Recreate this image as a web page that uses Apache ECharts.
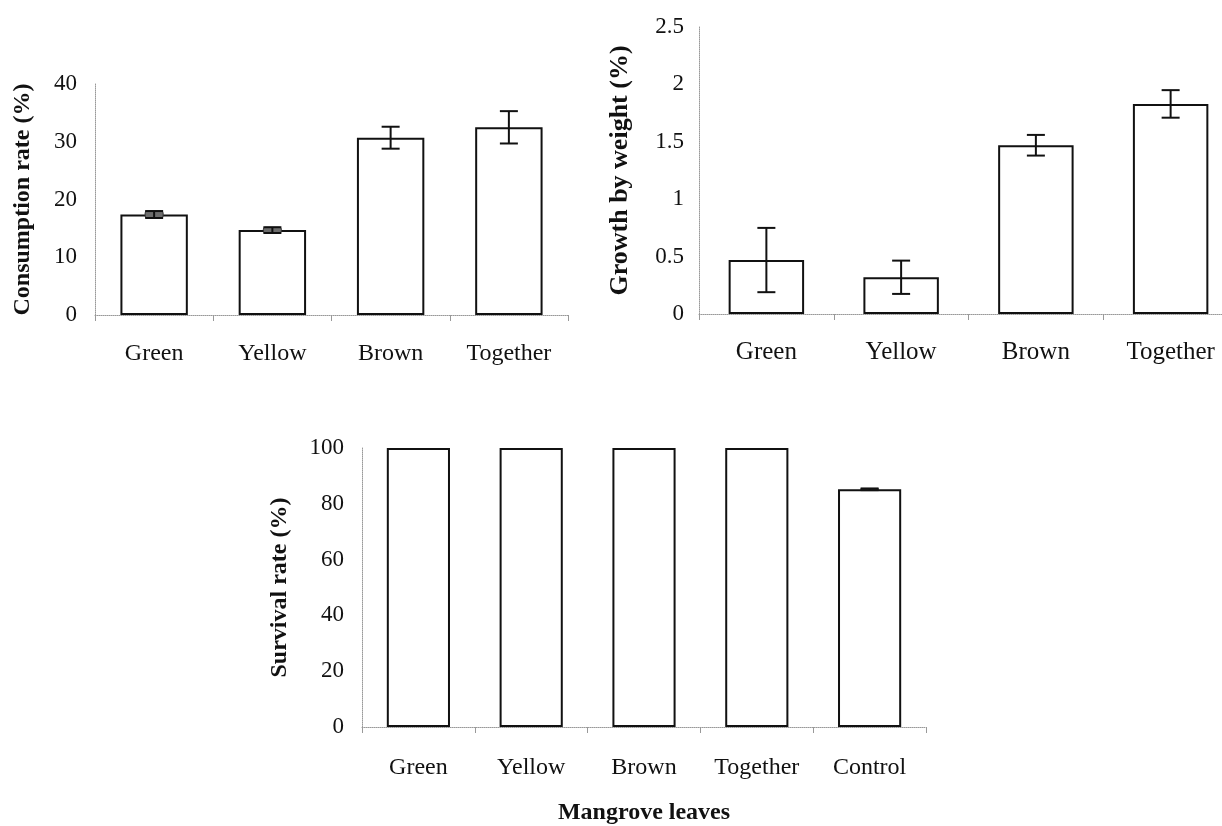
<!DOCTYPE html>
<html>
<head>
<meta charset="utf-8">
<script src="https://cdn.jsdelivr.net/npm/echarts@6/dist/echarts.min.js"></script>
<style>
  html, body { margin: 0; padding: 0; background: #fff; overflow: hidden; }
  #chart { width: 1262px; height: 826px; }
</style>
</head>
<body>
<div id="chart"></div>
<script>
// Leaf colour treatments
const leafTypes = ['Green', 'Yellow', 'Brown', 'Together'];
const survivalGroups = ['Green', 'Yellow', 'Brown', 'Together', 'Control'];

// Consumption rate (%) with standard errors
const consumption = [17.4, 14.7, 30.7, 32.5];
const consumptionErr = [0.6, 0.5, 1.9, 2.8];

// Growth by weight (%) with standard errors
const growth = [0.47, 0.32, 1.47, 1.83];
const growthErr = [0.28, 0.145, 0.09, 0.12];

// Survival rate (%) with standard errors
const survival = [100, 100, 100, 100, 85.2];
const survivalErr = [0, 0, 0, 0, 0.3];

// Value axis ranges
const consumptionAxis = { min: 0, max: 40, interval: 10 };
const growthAxis = { min: 0, max: 2.5, interval: 0.5 };
const survivalAxis = { min: 0, max: 100, interval: 20 };

const FONT = 'Liberation Serif, Times New Roman, serif';
const INK = '#111';

function errorData(values, errs) {
  return values.map((v, i) => [i, v - errs[i], v + errs[i], errs[i]]);
}

// Error bar glyph: stem plus two caps; very short bars merge into a shaded block
function renderError(params, api) {
  if (api.value(3) <= 0) return null;
  const i = api.value(0);
  const lo = api.coord([i, api.value(1)]);
  const hi = api.coord([i, api.value(2)]);
  const x = lo[0];
  const half = 9;
  const style = { stroke: INK, lineWidth: 2 };
  const children = [];
  if (lo[1] - hi[1] < 10) {
    children.push({
      type: 'rect',
      shape: { x: x - half, y: hi[1], width: half * 2, height: lo[1] - hi[1], r: 2 },
      style: { fill: '#6d6d6d', stroke: '#333', lineWidth: 1 }
    });
  }
  children.push(
    { type: 'line', shape: { x1: x, y1: hi[1], x2: x, y2: lo[1] }, style },
    { type: 'line', shape: { x1: x - half, y1: hi[1], x2: x + half, y2: hi[1] }, style },
    { type: 'line', shape: { x1: x - half, y1: lo[1], x2: x + half, y2: lo[1] }, style }
  );
  return { type: 'group', children };
}

function catAxis(gridIndex, data, margin, fontSize, extra) {
  return Object.assign({
    type: 'category',
    gridIndex,
    data,
    axisLine: { show: true, lineStyle: { color: '#999', type: 'dotted', width: 1 } },
    axisTick: { show: true, alignWithLabel: false, length: 6, lineStyle: { color: '#999' } },
    axisLabel: { color: INK, fontFamily: FONT, fontSize, margin }
  }, extra || {});
}

function valAxis(gridIndex, range, name, nameGap, labelMargin, nameSize) {
  return {
    type: 'value',
    gridIndex,
    min: range.min,
    max: range.max,
    interval: range.interval,
    name,
    nameLocation: 'middle',
    nameGap,
    nameTextStyle: { color: INK, fontFamily: FONT, fontSize: nameSize, fontWeight: 'bold' },
    axisLine: { show: true, lineStyle: { color: '#999', type: 'dotted', width: 1 } },
    axisTick: { show: false },
    splitLine: { show: false },
    axisLabel: { color: INK, fontFamily: FONT, fontSize: 23, margin: labelMargin }
  };
}

function barSeries(idx, values, width) {
  return {
    type: 'bar',
    xAxisIndex: idx,
    yAxisIndex: idx,
    data: values,
    barWidth: width,
    itemStyle: { color: '#fff', borderColor: INK, borderWidth: 2 },
    emphasis: { disabled: true },
    z: 2
  };
}

function errSeries(idx, values, errs) {
  return {
    type: 'custom',
    xAxisIndex: idx,
    yAxisIndex: idx,
    data: errorData(values, errs),
    renderItem: renderError,
    z: 5
  };
}

const chart = echarts.init(document.getElementById('chart'), null, { renderer: 'canvas' });

chart.setOption({
  animation: false,
  backgroundColor: '#fff',
  grid: [
    { left: 95, top: 84, width: 473, height: 231 },
    { left: 699, top: 27, width: 539, height: 287 },
    { left: 362, top: 448, width: 564, height: 282 }
  ],
  xAxis: [
    catAxis(0, leafTypes, 27, 24),
    catAxis(1, leafTypes, 26, 25),
    catAxis(2, survivalGroups, 29, 24, {
      name: 'Mangrove leaves',
      nameLocation: 'middle',
      nameGap: 74,
      nameTextStyle: { color: INK, fontFamily: FONT, fontSize: 24, fontWeight: 'bold' }
    })
  ],
  yAxis: [
    valAxis(0, consumptionAxis, 'Consumption rate (%)', 60, 18, 24),
    valAxis(1, growthAxis, 'Growth by weight (%)', 66, 15, 26),
    valAxis(2, survivalAxis, 'Survival rate (%)', 70, 18, 24)
  ],
  series: [
    barSeries(0, consumption, '57%'),
    errSeries(0, consumption, consumptionErr),
    barSeries(1, growth, '56%'),
    errSeries(1, growth, growthErr),
    barSeries(2, survival, '56%'),
    errSeries(2, survival, survivalErr)
  ]
});
</script>
</body>
</html>
